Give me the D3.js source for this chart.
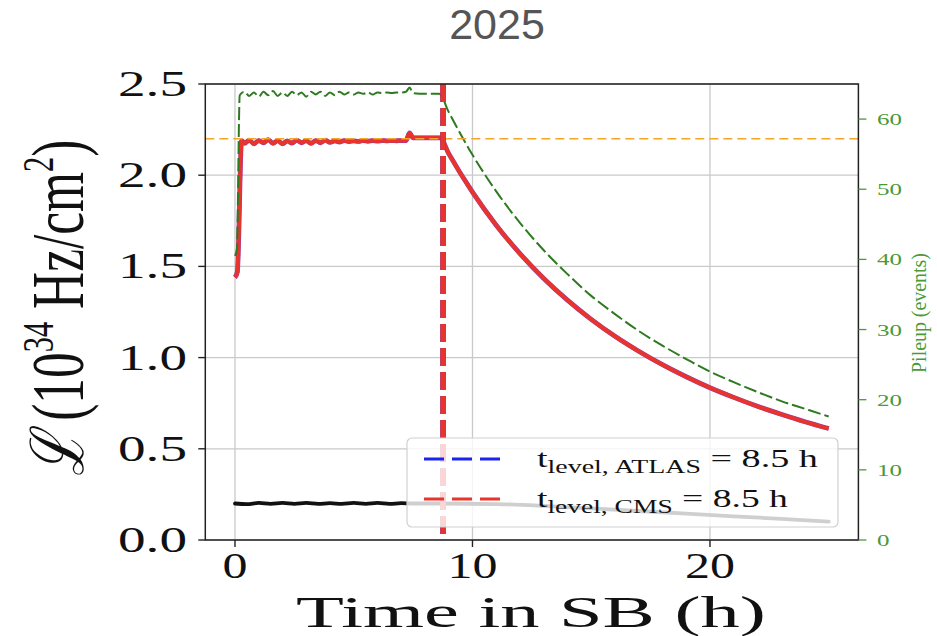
<!DOCTYPE html>
<html><head><meta charset="utf-8">
<script src="https://cdn.jsdelivr.net/npm/d3@7"></script>
<style>html,body{margin:0;padding:0;background:#fff;} svg{display:block}</style>
</head><body>
<svg id="c" width="937" height="636"></svg>
<script>
// ---------------- data ----------------
const titleText = "2025";
const xTicks = [0, 10, 20];
const yTicks = [0, 0.5, 1.0, 1.5, 2.0, 2.5];
const y2Ticks = [0, 10, 20, 30, 40, 50, 60];

// luminosity (10^34 Hz/cm^2), CMS (red) = ATLAS (blue underneath)
const lumiTime = [0, 0.1, 0.28, 0.4, 0.6, 0.8, 1.0, 1.2, 1.4, 1.6, 1.8, 2.0, 2.2, 2.4, 2.6, 2.8, 3.0, 3.2, 3.4, 3.6, 3.8, 4.0, 4.2, 4.4, 4.6, 4.8, 5.0, 5.2, 5.4, 5.6, 5.8, 6.0, 6.2, 6.4, 6.6, 6.8, 7.0, 7.2, 7.35, 7.5, 8.0, 8.63, 9, 10, 11, 12, 13, 14, 15, 16, 17, 18, 19, 20, 21, 22, 23, 24, 25];
const lumiValues = [1.44, 1.47, 2.19, 2.175, 2.192, 2.172, 2.19, 2.178, 2.195, 2.175, 2.19, 2.172, 2.188, 2.176, 2.192, 2.178, 2.19, 2.174, 2.19, 2.178, 2.192, 2.18, 2.188, 2.182, 2.19, 2.184, 2.188, 2.185, 2.19, 2.186, 2.19, 2.187, 2.19, 2.188, 2.19, 2.189, 2.19, 2.19, 2.232, 2.205, 2.205, 2.205, 2.118, 1.907, 1.726, 1.570, 1.434, 1.315, 1.210, 1.117, 1.035, 0.961, 0.895, 0.835, 0.782, 0.733, 0.689, 0.648, 0.611];

// pileup (events), right axis
const pileupTime = [0, 0.08, 0.2, 0.4, 0.6, 0.8, 1.0, 1.2, 1.4, 1.6, 1.8, 2.0, 2.2, 2.4, 2.6, 2.8, 3.0, 3.2, 3.4, 3.6, 3.8, 4.0, 4.2, 4.4, 4.6, 4.8, 5.0, 5.2, 5.4, 5.6, 5.8, 6.0, 6.2, 6.4, 6.6, 6.8, 7.0, 7.2, 7.35, 7.5, 8.0, 8.6, 9, 10, 11, 12, 13, 14, 15, 16, 17, 18, 19, 20, 21, 22, 23, 24, 25];
const pileupValues = [40.5, 41.5, 63.4, 63.9, 63.3, 63.8, 63.2, 63.9, 63.4, 64.0, 63.3, 63.8, 63.3, 63.9, 63.4, 63.8, 63.2, 63.9, 63.5, 63.9, 63.3, 63.8, 63.4, 63.9, 63.5, 63.8, 63.5, 63.8, 63.6, 63.8, 63.5, 63.8, 63.7, 63.8, 63.7, 63.8, 63.8, 63.9, 64.5, 63.7, 63.6, 63.6, 61.0, 54.9, 49.7, 45.2, 41.3, 37.9, 34.8, 32.2, 29.8, 27.7, 25.8, 24.0, 22.5, 21.1, 19.8, 18.7, 17.6];

// black curve (left axis)
const lowTime = [0, 0.5, 1, 1.5, 2, 2.5, 3, 3.5, 4, 4.5, 5, 5.5, 6, 6.5, 7, 7.5, 8.6, 11, 13, 15, 17, 19, 21, 23, 25];
const lowValues = [0.2, 0.197, 0.203, 0.198, 0.203, 0.198, 0.203, 0.198, 0.202, 0.198, 0.203, 0.198, 0.203, 0.198, 0.202, 0.2, 0.2, 0.197, 0.187, 0.173, 0.159, 0.145, 0.13, 0.116, 0.101];

const levelTarget = 2.2;          // orange dashed horizontal
const tLevelLine = 8.76;          // vertical dashed lines (drawn position)
const legendSubs = ["level, ATLAS", "level, CMS"];
const legendValues = ["8.5", "8.5"];
const legendColors = ["#1a24ee", "#e8342c"];

// ---------------- drawing ----------------
const svg = d3.select("#c");
const L = 205.3, R = 858.4, T = 84, B = 540;
const x = d3.scaleLinear().domain([-1.25, 26.25]).range([L, R]);
const y = d3.scaleLinear().domain([0, 2.5]).range([B, T]);
const y2 = d3.scaleLinear().domain([0, 65]).range([B, T]);

const serif = "'Liberation Serif','Times New Roman',serif";
const green = "#2e7a20", greenTxt = "#4a9a38", red = "#e8342c";

function fit(textSel, len) {
  const w = textSel.node().getComputedTextLength();
  textSel.attr("transform", `scale(${len / w},1)`);
}

// title
svg.append("text").attr("x", 497).attr("y", 39).attr("text-anchor", "middle")
  .attr("font-family", "'Liberation Sans',Arial,sans-serif").attr("font-size", 43)
  .attr("fill", "#555").text(titleText);

// grid
const grid = svg.append("g");
grid.selectAll("line.gx").data(xTicks).join("line")
  .attr("x1", d => x(d)).attr("x2", d => x(d)).attr("y1", T).attr("y2", B)
  .attr("stroke", "#c9c9c9").attr("stroke-width", 1.3);
grid.selectAll("line.gy").data(yTicks).join("line")
  .attr("x1", L).attr("x2", R).attr("y1", d => y(d)).attr("y2", d => y(d))
  .attr("stroke", "#c9c9c9").attr("stroke-width", 1.3);

const lineL = (tArr) => d3.line().x((d, i) => x(tArr[i])).y(d => y(d)).curve(d3.curveMonotoneX);
const lineR = (tArr) => d3.line().x((d, i) => x(tArr[i])).y(d => y2(d)).curve(d3.curveMonotoneX);

// black curve
svg.append("path").attr("d", lineL(lowTime)(lowValues)).attr("fill", "none")
  .attr("stroke", "#111").attr("stroke-width", 3.8).attr("stroke-linecap", "round");

// luminosity lines
svg.append("path").attr("d", lineL(lumiTime)(lumiValues)).attr("fill", "none")
  .attr("stroke", "#8a3fb0").attr("stroke-width", 4.8).attr("stroke-linejoin", "round");
svg.append("path").attr("d", lineL(lumiTime)(lumiValues)).attr("fill", "none")
  .attr("stroke", red).attr("stroke-width", 4.0).attr("stroke-linejoin", "round");

// pileup line
svg.append("path").attr("d", lineR(pileupTime)(pileupValues)).attr("fill", "none")
  .attr("stroke", green).attr("stroke-width", 2).attr("stroke-dasharray", "13,4");

// orange level line
svg.append("line").attr("x1", L).attr("x2", R).attr("y1", y(levelTarget)).attr("y2", y(levelTarget))
  .attr("stroke", "#f5a52a").attr("stroke-width", 1.6).attr("stroke-dasharray", "9,5");

// vertical t_level lines
[legendColors[0], legendColors[1]].forEach(c => {
  svg.append("line").attr("x1", x(tLevelLine)).attr("x2", x(tLevelLine)).attr("y1", T).attr("y2", B)
    .attr("stroke", c).attr("stroke-width", 5.5).attr("stroke-dasharray", "18,6");
});

// spines
svg.append("rect").attr("x", L).attr("y", T).attr("width", R - L).attr("height", B - T)
  .attr("fill", "none").attr("stroke", "#222").attr("stroke-width", 1.5);

// left axis ticks
svg.selectAll("line.yt").data(yTicks).join("line")
  .attr("x1", L - 7).attr("x2", L).attr("y1", d => y(d)).attr("y2", d => y(d))
  .attr("stroke", "#222").attr("stroke-width", 1.4);
yTicks.forEach(d => {
  const g = svg.append("g").attr("transform", `translate(187,${y(d) + 12})`);
  const t = g.append("text").attr("text-anchor", "end").attr("font-family", serif)
    .attr("font-size", 36).attr("fill", "#111").text(d3.format(".1f")(d));
  fit(t, 69);
});

// bottom axis ticks
svg.selectAll("line.xt").data(xTicks).join("line")
  .attr("x1", d => x(d)).attr("x2", d => x(d)).attr("y1", B).attr("y2", B + 7)
  .attr("stroke", "#222").attr("stroke-width", 1.4);
xTicks.forEach(d => {
  const s = String(d);
  const g = svg.append("g").attr("transform", `translate(${x(d)},578)`);
  const t = g.append("text").attr("text-anchor", "middle").attr("font-family", serif)
    .attr("font-size", 36).attr("fill", "#111").text(s);
  fit(t, 25 * s.length);
});

// right axis ticks
svg.selectAll("line.y2t").data(y2Ticks).join("line")
  .attr("x1", R).attr("x2", R + 8).attr("y1", d => y2(d)).attr("y2", d => y2(d))
  .attr("stroke", greenTxt).attr("stroke-width", 1.3);
y2Ticks.forEach(d => {
  const s = String(d);
  const g = svg.append("g").attr("transform", `translate(877,${y2(d) + 6})`);
  const t = g.append("text").attr("text-anchor", "start").attr("font-family", serif)
    .attr("font-size", 17).attr("fill", greenTxt).text(s);
  fit(t, 12.5 * s.length);
});

// x label
{
  const g = svg.append("g").attr("transform", "translate(531,627)");
  const t = g.append("text").attr("text-anchor", "middle").attr("font-family", serif)
    .attr("font-size", 44).attr("fill", "#111").text("Time in SB (h)");
  fit(t, 470);
}

// y label
{
  const g = svg.append("g").attr("transform", "translate(83,308) rotate(-90)");
  const t = g.append("text").attr("text-anchor", "middle").attr("font-family", serif)
    .attr("font-size", 74).attr("fill", "#111");
  t.append("tspan").attr("font-style", "italic").text("\u2112");
  t.append("tspan").text(" (10");
  t.append("tspan").attr("font-size", 44).attr("dy", -30).text("34");
  t.append("tspan").attr("dy", 30).text(" Hz/cm");
  t.append("tspan").attr("font-size", 44).attr("dy", -30).text("2");
  t.append("tspan").attr("dy", 30).text(")");
  fit(t, 337);
}

// right label
{
  const g = svg.append("g").attr("transform", "translate(926,313) rotate(-90)");
  const t = g.append("text").attr("text-anchor", "middle").attr("font-family", serif)
    .attr("font-size", 20).attr("fill", greenTxt).text("Pileup (events)");
  fit(t, 120);
}

// legend
{
  const lg = svg.append("g");
  lg.append("rect").attr("x", 407).attr("y", 438).attr("width", 431).attr("height", 89)
    .attr("rx", 5).attr("fill", "#fff").attr("fill-opacity", 0.8)
    .attr("stroke", "#d0d0d0").attr("stroke-width", 1.2);
  const rows = [459, 499];
  const lens = [281, 251];
  legendSubs.forEach((sub, i) => {
    lg.append("line").attr("x1", 424).attr("x2", 500).attr("y1", rows[i]).attr("y2", rows[i])
      .attr("stroke", legendColors[i]).attr("stroke-width", 3).attr("stroke-dasharray", "20,8");
    const g = lg.append("g").attr("transform", `translate(537,${rows[i] + 8})`);
    const t = g.append("text").attr("font-family", serif).attr("font-size", 26).attr("fill", "#111");
    t.append("tspan").text("t");
    t.append("tspan").attr("font-size", 19).attr("dy", 6).text(sub);
    t.append("tspan").attr("dy", -6).text(" = " + legendValues[i] + " h");
    fit(t, lens[i]);
  });
}
</script>
</body></html>
